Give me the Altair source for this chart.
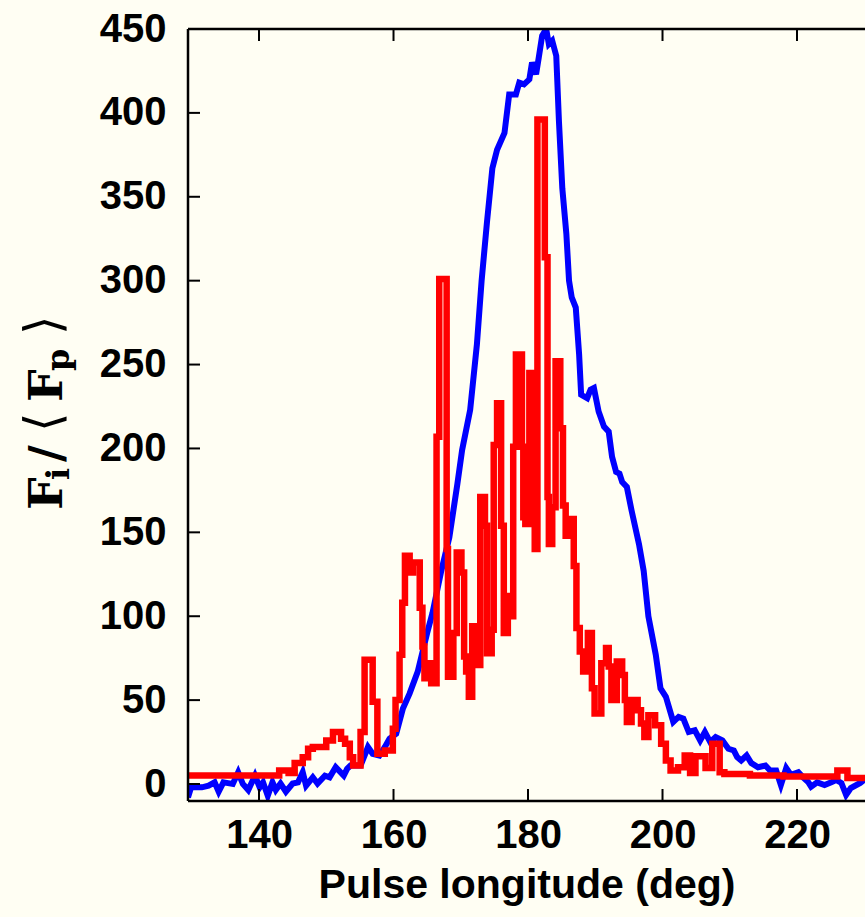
import altair as alt
import pandas as pd

# ---------------- data ----------------
red_x = [129.44, 143.0, 144.4, 145.3, 146.5, 147.3, 148.0, 150.0, 151.0, 152.2, 152.8, 153.5,
         154.0, 155.1, 155.7, 156.9, 157.6, 158.7, 159.9, 160.3, 160.9, 161.3, 161.7, 162.4,
         162.9, 163.9, 164.3, 164.6, 165.1, 165.6, 166.4, 166.8, 167.9, 168.1, 168.9, 169.4,
         170.1, 170.5, 170.8, 171.2, 171.7, 172.5, 172.9, 173.6, 173.9, 174.6, 174.9, 175.4,
         176.0, 176.4, 177.0, 177.6, 177.8, 178.2, 179.1, 179.3, 179.6, 180.2, 181.0, 181.4,
         182.5, 182.9, 183.1, 183.6, 184.1, 184.8, 185.2, 185.6, 186.1, 186.8, 187.2, 187.7,
         188.2, 188.9, 189.5, 189.9, 190.9, 191.6, 192.0, 192.4, 193.2, 194.0, 194.4, 194.7,
         195.4, 196.3, 196.8, 197.3, 197.9, 198.9, 199.8, 200.5, 201.2, 202.3, 203.3, 204.1,
         204.9, 206.4, 207.4, 208.5, 209.2, 213.0, 218.0, 226.0, 227.5, 230.11]
red_y = [5, 8, 6.5, 12.5, 16, 21, 22, 26, 31, 27, 24, 16,
         11, 31, 74, 49, 18, 20, 33, 50, 77, 108, 136, 126,
         132, 105, 82, 63, 72, 60, 207, 301, 140, 64, 90, 138,
         126, 76, 67, 52, 94, 71, 171, 154, 78, 92, 202, 227,
         154, 90, 112, 100, 201, 256, 201, 159, 155, 245, 140, 396,
         314, 171, 143, 165, 252, 212, 166, 148, 158, 130, 93, 79,
         67, 90, 57, 42, 72, 81, 70, 50, 73, 65, 50, 37,
         50, 44, 36, 28, 41, 35, 24, 14, 8, 10, 17, 6.5,
         16.5, 9.5, 24, 7, 6, 5, 4.5, 8, 3.6, 3.6]

blue_x = [129.44, 129.9, 131.5, 132.5, 133.4, 134.0, 134.7, 135.4, 136.1, 136.9, 137.6, 138.4,
          139.4, 140.1, 140.6, 141.3, 142.0, 142.5, 143.2, 144.0, 145.0, 145.8, 146.5, 147.0,
          148.0, 148.7, 149.8, 150.5, 151.4, 152.6, 153.1, 153.6, 154.6, 155.1, 156.2, 156.9,
          157.9, 158.7, 159.4, 160.4, 161.4, 162.4, 163.6, 165.0, 165.8, 167.1, 168.3, 169.5,
          170.2, 171.4, 172.4, 173.1, 173.9, 174.7, 175.4, 176.5, 177.2, 178.2, 178.7, 179.4,
          180.2, 180.6, 181.2, 181.6, 182.1, 182.7, 183.1, 183.6, 184.2, 184.6, 185.1, 185.7,
          186.1, 186.5, 187.1, 187.6, 187.9, 188.8, 189.3, 189.8, 190.5, 191.3, 192.0, 192.5,
          193.1, 193.6, 194.0, 194.7, 195.4, 196.5, 197.2, 197.9, 199.0, 199.7, 200.5, 201.6,
          202.4, 203.1, 203.9, 204.8, 205.6, 206.3, 207.1, 207.9, 208.9, 209.8, 210.6, 211.1,
          211.7, 212.5, 213.2, 214.2, 215.3, 216.0, 216.9, 217.6, 218.4, 219.1, 220.2, 220.9,
          221.7, 222.1, 223.0, 224.1, 225.1, 225.8, 226.6, 227.3, 228.0, 229.4, 230.11]
blue_y = [-8, -2, -2, -1, 1, -4.6, 1, 0.5, 0, 7, 0, -3.6,
          5, -2, 1, -7, 1, -3.6, 0.3, -4.6, 0.3, 1, 7, -1,
          4, 0.3, 5, 4, 10, 5, 9, 11, 11, 11, 22, 18,
          17, 22, 27, 30, 45, 54, 67, 90, 102, 127, 147, 179,
          199, 223, 262, 300, 335, 367, 378, 388, 411, 411, 418, 417,
          420, 430, 423, 433, 446, 450, 441, 443, 434, 395, 355, 328,
          300, 290, 284, 256, 232, 230, 235, 236, 222, 213, 210, 195,
          186, 185, 180, 177, 163, 143, 127, 100, 77, 57, 52, 37,
          40, 39, 31, 32, 26, 31, 25, 28, 26, 21, 20, 16,
          14, 17, 12.5, 10, 11, 8, 8, -0.6, 9.5, 5.4, 7, 4,
          1, -1.6, 1, -0.6, 1, 2.4, 0.6, -6.5, -2.4, 0.6, 3]

x_ticks = [140, 160, 180, 200, 220]
y_ticks = [0, 50, 100, 150, 200, 250, 300, 350, 400, 450]
x_title = "Pulse longitude (deg)"
y_title_parts = ["F", "i", "/", "\u27e8", "F", "p", "\u27e9"]

# ---------------- layout ----------------
W, H = 677, 772
BG = "#fffef3"
LABEL_FONT = "Liberation Sans"

xscale = alt.Scale(domain=[129.44, 230.11], nice=False, zero=False)
yscale = alt.Scale(domain=[-10.13, 450], nice=False, zero=False)

x_axis = alt.Axis(values=x_ticks, domain=False, ticks=False, grid=False,
                  labelFont=LABEL_FONT, labelFontSize=40, labelFontWeight="bold",
                  labelColor="black", labelPadding=14, labelFlush=False,
                  title=x_title, titleFont=LABEL_FONT, titleFontSize=41,
                  titleFontWeight="bold", titleColor="black", titlePadding=10)
y_axis = alt.Axis(values=y_ticks, domain=False, ticks=False, grid=False,
                  labelFont=LABEL_FONT, labelFontSize=40, labelFontWeight="bold",
                  labelColor="black", labelPadding=22, labelFlush=False, title=None)

blue_df = pd.DataFrame({"x": blue_x, "y": blue_y})
red_df = pd.DataFrame({"x": red_x, "y": red_y})

X = alt.X("x:Q", scale=xscale, axis=x_axis)
Y = alt.Y("y:Q", scale=yscale, axis=y_axis)

blue = alt.Chart(blue_df).mark_line(color="#0000ff", strokeWidth=6, clip=True,
                                    strokeJoin="miter").encode(x=X, y=Y, order="x:Q")
red = alt.Chart(red_df).mark_line(color="#ff0000", strokeWidth=6.5, clip=True,
                                  interpolate="step-after", strokeJoin="miter").encode(x=X, y=Y, order="x:Q")

xt = pd.DataFrame({"x": x_ticks})
yt = pd.DataFrame({"y": y_ticks})
tick_bottom = alt.Chart(xt).mark_rule(color="black", strokeWidth=2).encode(
    x=X, y=alt.value(H), y2=alt.value(H - 12))
tick_top = alt.Chart(xt).mark_rule(color="black", strokeWidth=2).encode(
    x=X, y=alt.value(0), y2=alt.value(12))
tick_left = alt.Chart(yt).mark_rule(color="black", strokeWidth=2).encode(
    y=Y, x=alt.value(0), x2=alt.value(12))

frame_df = pd.DataFrame({"k": [0]})
frame_left = alt.Chart(frame_df).mark_rule(color="black", strokeWidth=2.5).encode(
    x=alt.value(0), y=alt.value(0), y2=alt.value(H))
frame_bottom = alt.Chart(frame_df).mark_rule(color="black", strokeWidth=2.5).encode(
    x=alt.value(0), x2=alt.value(W + 2), y=alt.value(H))
frame_top = alt.Chart(frame_df).mark_rule(color="black", strokeWidth=2.5).encode(
    x=alt.value(0), x2=alt.value(W + 2), y=alt.value(0))

# y-axis title built from pieces (subscripts), rotated
pieces = [
    # text, x (baseline), y (start), size, font, weight
    (y_title_parts[0], -126, 481, 46, "DejaVu Serif", "bold"),
    (y_title_parts[1], -119, 451, 32, "DejaVu Serif", "bold"),
    (y_title_parts[2], -126, 433, 46, "DejaVu Serif", "bold"),
    (y_title_parts[3], -128, 403, 50, "DejaVu Sans", "normal"),
    (y_title_parts[4], -126, 373, 46, "DejaVu Serif", "bold"),
    (y_title_parts[5], -119, 342, 32, "DejaVu Serif", "bold"),
    (y_title_parts[6], -128, 306, 50, "DejaVu Sans", "normal"),
]
title_layers = []
for t, px, py, fs, fnt, fw in pieces:
    title_layers.append(
        alt.Chart(pd.DataFrame({"t": [t]})).mark_text(
            angle=270, align="left", baseline="alphabetic", font=fnt,
            fontSize=fs, fontWeight=fw, color="black").encode(
            text="t:N", x=alt.value(px), y=alt.value(py)))

chart = alt.layer(blue, red, tick_bottom, tick_top, tick_left,
                  frame_left, frame_bottom, frame_top, *title_layers).properties(
    width=W, height=H,
    autosize=alt.AutoSizeParams(type="none"),
    padding={"left": 188, "top": 29, "right": 0, "bottom": 116},
    background=BG,
).configure_view(stroke=None)

chart.save("out.html", embed_options={"renderer": "svg", "actions": False})
